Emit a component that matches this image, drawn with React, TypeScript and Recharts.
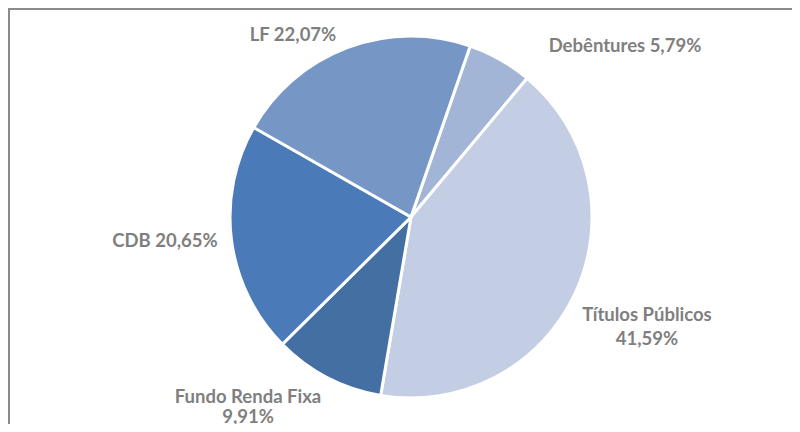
import { PieChart, Pie, Cell } from 'recharts';

const names = ['Debêntures', 'Títulos Públicos', 'Fundo Renda Fixa', 'CDB', 'LF'];
const shares = [5.79, 41.59, 9.91, 20.65, 22.07];
const colors = ['#a3b5d6', '#c3cde3', '#436fa2', '#4a7bb8', '#7696c6'];

// label placement relative to the pie centre (lines of text + baselines)
const labelLayout = [
  { dx: 214, lines: [-165] },
  { dx: 236, lines: [104, 128] },
  { dx: -163, lines: [186, 206] },
  { dx: -246, lines: [30] },
  { dx: -118, lines: [-176] },
];

const fmt = (v: number) => v.toFixed(2).replace('.', ',') + '%';

const data = names.map((name, i) => ({ name, value: shares[i] }));

function renderLabel(props: any) {
  const { cx, cy, index } = props;
  const item = data[index];
  const layout = labelLayout[index];
  const lines =
    layout.lines.length === 2 ? [item.name, fmt(item.value)] : [`${item.name} ${fmt(item.value)}`];
  return (
    <text
      textAnchor="middle"
      fill="#7f7f7f"
      fontFamily="Lato, sans-serif"
      fontWeight="bold"
      fontSize={18.5}
    >
      {lines.map((t, i) => (
        <tspan key={i} x={cx + layout.dx} y={cy + layout.lines[i]}>
          {t}
        </tspan>
      ))}
    </text>
  );
}

export default function App() {
  return (
    <div
      style={{
        position: 'relative',
        width: 800,
        height: 432,
        margin: -8,
        overflow: 'hidden',
        background: '#fff',
      }}
    >
      <svg
        width={800}
        height={12}
        style={{ position: 'absolute', left: 0, top: 0 }}
      >
        <text x={32} y={1} fontFamily="Lato, sans-serif" fontWeight="bold" fontSize={22} fill="#222">
          Composição da Carteira
        </text>
      </svg>
      <div
        style={{
          position: 'absolute',
          left: 8,
          top: 8,
          width: 900,
          height: 500,
          border: '2px solid #8a8a8a',
          boxSizing: 'border-box',
        }}
      />
      <div style={{ position: 'absolute', left: 0, top: 0 }}>
        <PieChart width={800} height={432} margin={{ top: 0, right: 0, bottom: 0, left: 0 }}>
          <Pie
            data={data}
            dataKey="value"
            nameKey="name"
            cx={411}
            cy={217}
            outerRadius={181}
            startAngle={70.9}
            endAngle={-289.1}
            stroke="#ffffff"
            strokeWidth={3}
            label={renderLabel}
            labelLine={false}
            isAnimationActive={false}
          >
            {data.map((d, i) => (
              <Cell key={d.name} fill={colors[i]} />
            ))}
          </Pie>
        </PieChart>
      </div>
    </div>
  );
}
